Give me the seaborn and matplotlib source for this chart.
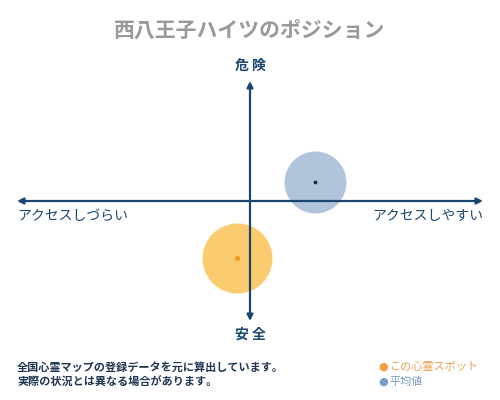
import pandas as pd
import matplotlib.pyplot as plt
import seaborn as sns

# Datos
series = ['この心霊スポット', '平均値']
access_x = [-0.056, 0.279]
danger_y = [-0.475, 0.158]
colores = ['#fbc257', '#9db6d4']
puntos = ['#f0a020', '#1a2a40']

titulo = '西八王子ハイツのポジション'
eje_arriba = '危 険'
eje_abajo = '安 全'
eje_izq = 'アクセスしづらい'
eje_der = 'アクセスしやすい'
nota = ['全国心霊マップの登録データを元に算出しています。',
        '実際の状況とは異なる場合があります。']

NAVY = '#1b4670'

sns.set_theme(style='white')
plt.rcParams['font.family'] = ['Noto Sans CJK JP', 'DejaVu Sans']

df = pd.DataFrame({'serie': series, 'x': access_x, 'y': danger_y})

fig = plt.figure(figsize=(5, 4), dpi=100)
ax = fig.add_axes([17 / 500, 1 - 321 / 400, 466 / 500, 240 / 400])
ax.set_xlim(-1, 1)
ax.set_ylim(-1, 1)
ax.axis('off')

# círculos (naranja debajo, azul encima)
sns.scatterplot(data=df.iloc[[1]], x='x', y='y', s=1990, color=colores[1],
                alpha=0.8, linewidth=0, ax=ax, legend=False, zorder=2)
sns.scatterplot(data=df.iloc[[0]], x='x', y='y', s=2540, color=colores[0],
                alpha=0.85, linewidth=0, ax=ax, legend=False, zorder=2)

# ejes con flechas
arrow = dict(arrowstyle='-|>', color=NAVY, lw=1.6, mutation_scale=9, shrinkA=0, shrinkB=0)
ax.annotate('', xy=(1, 0), xytext=(0, 0), arrowprops=arrow, zorder=3)
ax.annotate('', xy=(-1, 0), xytext=(0, 0), arrowprops=arrow, zorder=3)
ax.annotate('', xy=(0, 1), xytext=(0, 0), arrowprops=arrow, zorder=3)
ax.annotate('', xy=(0, -1), xytext=(0, 0), arrowprops=arrow, zorder=3)
ax.set_xlabel('')
ax.set_ylabel('')

# puntos centrales
for i in range(2):
    ax.scatter(access_x[i], danger_y[i], s=8 if i == 0 else 3, color=puntos[i], zorder=4)

fig.text(0.5, 1 - 30 / 400, titulo, ha='center', va='center', fontsize=15,
         color='#999999', fontweight='bold')
fig.text(0.5, 1 - 66 / 400, eje_arriba, ha='center', va='center', fontsize=10,
         color=NAVY, fontweight='bold')
fig.text(0.5, 1 - 335 / 400, eje_abajo, ha='center', va='center', fontsize=10,
         color=NAVY, fontweight='bold')
fig.text(17 / 500, 1 - 216 / 400, eje_izq, ha='left', va='center', fontsize=10,
         color=NAVY)
fig.text(483 / 500, 1 - 216 / 400, eje_der, ha='right', va='center', fontsize=10,
         color=NAVY)

fig.text(17 / 500, 1 - 367 / 400, nota[0], ha='left', va='center', fontsize=8,
         color='#1f3550', fontweight='bold')
fig.text(17 / 500, 1 - 382 / 400, nota[1], ha='left', va='center', fontsize=8,
         color='#1f3550', fontweight='bold')

# leyenda
leg_colors = ['#f0a040', '#7a9fc6']
leg_text = ['#e8a050', '#7a9cc0']
for i, (yy, name) in enumerate(zip([367, 382], series)):
    fig.text(383 / 500, 1 - yy / 400, '●', ha='center', va='center', fontsize=8,
             color=leg_colors[i], family=['DejaVu Sans'])
    fig.text(389 / 500, 1 - yy / 400, name, ha='left', va='center', fontsize=8,
             color=leg_text[i])

fig.savefig('out.png', dpi=100, facecolor='white')
